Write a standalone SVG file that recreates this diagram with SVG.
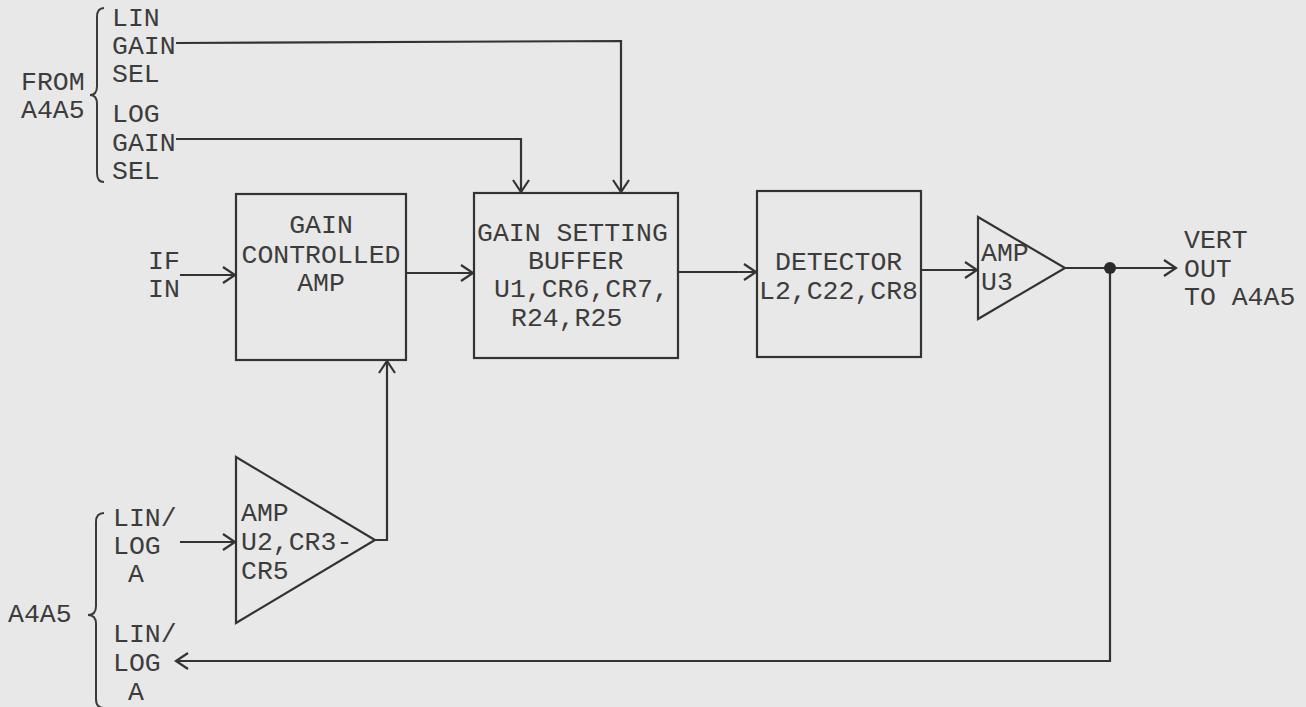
<svg xmlns="http://www.w3.org/2000/svg" width="1306" height="707" viewBox="0 0 1306 707">
<defs>
<style>
.t{font-family:'Liberation Mono','DejaVu Sans Mono',monospace;font-size:26.5px;fill:#3c3c3c}
.ln{fill:none;stroke:#333;stroke-width:2.2}
.br{fill:none;stroke:#3a3a3a;stroke-width:2}
</style>
<marker id="ah" markerUnits="userSpaceOnUse" markerWidth="16" markerHeight="18" refX="13" refY="9" orient="auto" overflow="visible">
<path d="M1,1 L13,9 L1,17" fill="none" stroke="#333" stroke-width="2.2"/>
</marker>
</defs>
<rect width="1306" height="707" fill="#e8e8e8"/>

<g id="from-a4a5-top" class="t">
<path class="br" d="M104,8 Q97,8 97,17 L97,86 Q97,95 90,95 Q97,95 97,104 L97,173 Q97,182 104,182"/>
<text x="21" y="90">FROM</text>
<text x="21" y="118">A4A5</text>
<text x="112" y="26">LIN</text>
<text x="112" y="54">GAIN</text>
<text x="112" y="82">SEL</text>
<text x="112" y="122">LOG</text>
<text x="112" y="151">GAIN</text>
<text x="112" y="179">SEL</text>
</g>

<g id="if-in" class="t">
<text x="148" y="269">IF</text>
<text x="148" y="297">IN</text>
</g>

<g id="gain-controlled-amp" class="t">
<rect class="ln" x="236" y="194" width="170" height="166"/>
<text x="321" y="233" text-anchor="middle">GAIN</text>
<text x="321" y="263" text-anchor="middle">CONTROLLED</text>
<text x="321" y="291" text-anchor="middle">AMP</text>
</g>

<g id="gain-setting-buffer" class="t">
<rect class="ln" x="474" y="193" width="204" height="165"/>
<text x="477" y="241">GAIN SETTING</text>
<text x="528" y="269">BUFFER</text>
<text x="494" y="297">U1,CR6,CR7,</text>
<text x="511" y="326">R24,R25</text>
</g>

<g id="detector" class="t">
<rect class="ln" x="757" y="191" width="164" height="166"/>
<text x="775" y="270">DETECTOR</text>
<text x="759" y="299">L2,C22,CR8</text>
</g>

<g id="amp-u3" class="t">
<path class="ln" d="M978,217 L1065,268 L978,319 Z"/>
<text x="981" y="261">AMP</text>
<text x="981" y="290">U3</text>
</g>

<g id="vert-out" class="t">
<text x="1184" y="248">VERT</text>
<text x="1184" y="277">OUT</text>
<text x="1184" y="305">TO A4A5</text>
</g>

<g id="amp-u2" class="t">
<path class="ln" d="M236,457 L375,540 L236,623 Z"/>
<text x="241" y="521">AMP</text>
<text x="241" y="550">U2,CR3-</text>
<text x="241" y="579">CR5</text>
</g>

<g id="a4a5-bottom" class="t">
<path class="br" d="M104,513 Q96,513 96,522 L96,606 Q96,615 88,615 Q96,615 96,624 L96,699 Q96,708 104,708"/>
<text x="8" y="622">A4A5</text>
<text x="113" y="526">LIN/</text>
<text x="113" y="554">LOG</text>
<text x="128" y="582">A</text>
<text x="113" y="642">LIN/</text>
<text x="113" y="671">LOG</text>
<text x="128" y="700">A</text>
</g>

<g id="connectors">
<path class="ln" d="M176,43 L621,41 L621,192" marker-end="url(#ah)"/>
<path class="ln" d="M176,139 L521,139 L521,192" marker-end="url(#ah)"/>
<path class="ln" d="M180,275 L235,275" marker-end="url(#ah)"/>
<path class="ln" d="M406,273 L473,273" marker-end="url(#ah)"/>
<path class="ln" d="M678,272 L756,272" marker-end="url(#ah)"/>
<path class="ln" d="M921,270 L977,270" marker-end="url(#ah)"/>
<path class="ln" d="M1065,268 L1176,268" marker-end="url(#ah)"/>
<path class="ln" d="M1110,268 L1110,661 L176,661" marker-end="url(#ah)"/>
<path class="ln" d="M180,542 L235,542" marker-end="url(#ah)"/>
<path class="ln" d="M375,540 L387,540 L387,361" marker-end="url(#ah)"/>
<circle cx="1110" cy="268" r="6" fill="#2a2a2a"/>
</g>
</svg>
